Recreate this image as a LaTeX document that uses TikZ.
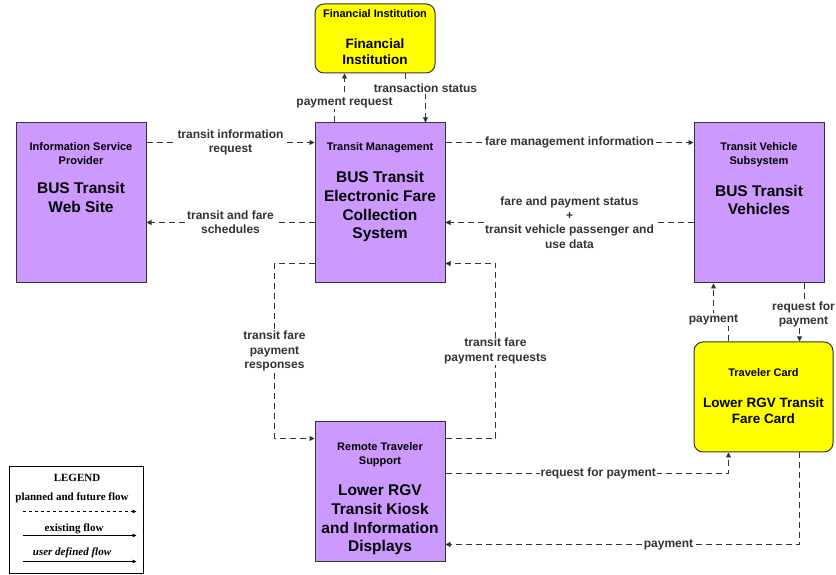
\documentclass[tikz,border=0pt]{standalone}
\usepackage{fontspec}
\setmainfont{Liberation Sans}
\newfontfamily\legserif{Liberation Serif}
\usepackage{tikz}
\usetikzlibrary{positioning,arrows.meta}
\definecolor{sysfill}{HTML}{CC99FF}
\definecolor{termfill}{HTML}{FFFF00}
\definecolor{lineclr}{HTML}{333333}
\newcommand{\hdrfont}{\bfseries\fontsize{11}{13.5}\selectfont}
\newcommand{\ttlfont}{\bfseries\fontsize{15.5}{18.7}\selectfont}
\newcommand{\smttlfont}{\bfseries\fontsize{13.5}{15.5}\selectfont}
\newcommand{\lblfont}{\bfseries\fontsize{12}{14.3}\selectfont}
\newcommand{\legfont}{\legserif\bfseries\fontsize{11}{12}\selectfont}

\begin{document}
\begin{tikzpicture}[x=1pt, y=1pt, node distance=18pt,
    sysbox/.style={draw=lineclr, fill=sysfill, line width=1pt, minimum width=130pt,
                   minimum height=160pt, inner sep=0pt},
    termbox/.style={draw=lineclr, fill=termfill, line width=1pt, rounded corners=9pt,
                    inner sep=0pt},
    hdr/.style={font=\hdrfont, align=center, inner sep=0pt},
    ttl/.style={font=\ttlfont, align=center, inner sep=0pt},
    lbl/.style={font=\lblfont, align=center, fill=white, inner sep=1pt},
    flow/.style={lineclr, line width=0.9pt, dash pattern=on 6pt off 4pt,
                 -{Triangle[length=5pt, width=5pt]}},
    legline/.style={black, line width=0.8pt, -{Triangle[length=4pt, width=3.5pt]}}]
  \useasboundingbox (0,0) rectangle (836,575);

  % subsystems
  \node[sysbox] (isp) at (81,372) {};
  \node[sysbox] (tm) at (380,372) {};
  \node[sysbox] (tvs) at (759,372) {};
  \node[sysbox, minimum height=140pt] (rts) at (380,83) {};
  % terminators
  \node[termbox, minimum width=120pt, minimum height=69pt] (fi) at (375,536.5) {};
  \node[termbox, minimum width=139pt, minimum height=110pt] (tc) at (763.5,178) {};

  % box texts
  \node[hdr, below=20pt of isp.north] (ispH) {Information Service\\Provider};
  \node[ttl, below=of ispH] (ispT) {BUS Transit\\Web Site};
  \node[hdr, below=20pt of tm.north] (tmH) {Transit Management};
  \node[ttl, below=of tmH] (tmT) {BUS Transit\\Electronic Fare\\Collection\\System};
  \node[hdr, below=20pt of tvs.north] (tvsH) {Transit Vehicle\\Subsystem};
  \node[ttl, below=of tvsH] (tvsT) {BUS Transit\\Vehicles};
  \node[hdr, below=21pt of rts.north] (rtsH) {Remote Traveler\\Support};
  \node[ttl, below=of rtsH] (rtsT) {Lower RGV\\Transit Kiosk\\and Information\\Displays};
  \node[hdr, below=6pt of fi.north] (fiH) {Financial Institution};
  \node[ttl, font=\smttlfont, below=21pt of fiH] (fiT) {Financial\\Institution};
  \node[hdr, below=27pt of tc.north] (tcH) {Traveler Card};
  \node[ttl, font=\smttlfont, below=21pt of tcH] (tcT) {Lower RGV Transit\\Fare Card};

  % flows
  \draw[flow] ([yshift=-20pt]isp.north east) -- node[lbl]{transit information\\request}
    ([yshift=-20pt]tm.north west);
  \draw[flow] ([yshift=-100pt]tm.north west) -- node[lbl]{transit and fare\\schedules}
    ([yshift=-100pt]isp.north east);
  \draw[flow] ([yshift=-20pt]tm.north east) -- node[lbl]{fare management information}
    ([yshift=-20pt]tvs.north west);
  \draw[flow] ([yshift=-100pt]tvs.north west) -- node[lbl]{fare and payment status\\+\\transit
    vehicle passenger and\\use data} ([yshift=-100pt]tm.north east);
  \draw[flow] ([xshift=20pt]tm.north west) -- ++(0,20) -| node[lbl]{payment request}
    ([xshift=30pt]fi.south west);
  \draw[flow] ([xshift=-30pt]fi.south east) -- ++(0,-15) -| node[lbl]{transaction status}
    ([xshift=-20pt]tm.north east);
  \draw[flow] ([yshift=20pt]tm.south west) -- ++(-40,0) |- node[lbl, pos=0.25]{transit fare\\payment\\responses}
    ([yshift=-17pt]rts.north west);
  \draw[flow] ([yshift=-17pt]rts.north east) -- ++(50,0) |- node[lbl, pos=0.25]{transit fare\\payment requests}
    ([yshift=20pt]tm.south east);
  \draw[flow] ([yshift=-52pt]rts.north east) -| node[lbl, pos=0.27]{request for payment}
    ([xshift=35pt]tc.south west);
  \draw[flow] ([xshift=-34pt]tc.south east) |- node[lbl, pos=0.685]{payment}
    ([yshift=18pt]rts.south east);
  \draw[flow] ([xshift=35pt]tc.north west) -- ++(0,22) -| node[lbl]{payment}
    ([xshift=20pt]tvs.south west);
  \draw[flow] ([xshift=-20pt]tvs.south east) -- ++(0,-31) -| node[lbl, xshift=4pt]{request for\\payment}
    ([xshift=-34pt]tc.north east);

  % legend
  \node[draw=black, line width=1pt, minimum width=134pt, minimum height=107pt, inner sep=0pt]
    (legend) at (76,54.5) {};
  \node[font=\legfont] (legT) at (77,97) {LEGEND};
  \node[font=\legfont] (legP) at (72,77) {planned and future flow};
  \node[font=\legfont] (legE) at (74,46) {existing flow};
  \node[font=\legfont\itshape] (legU) at (72,22) {user defined flow};
  \draw[legline, dash pattern=on 3pt off 3pt] ([xshift=14pt, yshift=63pt]legend.south west) -- ++(114,0);
  \draw[legline] ([xshift=14pt, yshift=39pt]legend.south west) -- ++(114,0);
  \draw[legline, line width=1.3pt] ([xshift=14pt, yshift=13pt]legend.south west) -- ++(114,0);
\end{tikzpicture}
\end{document}
